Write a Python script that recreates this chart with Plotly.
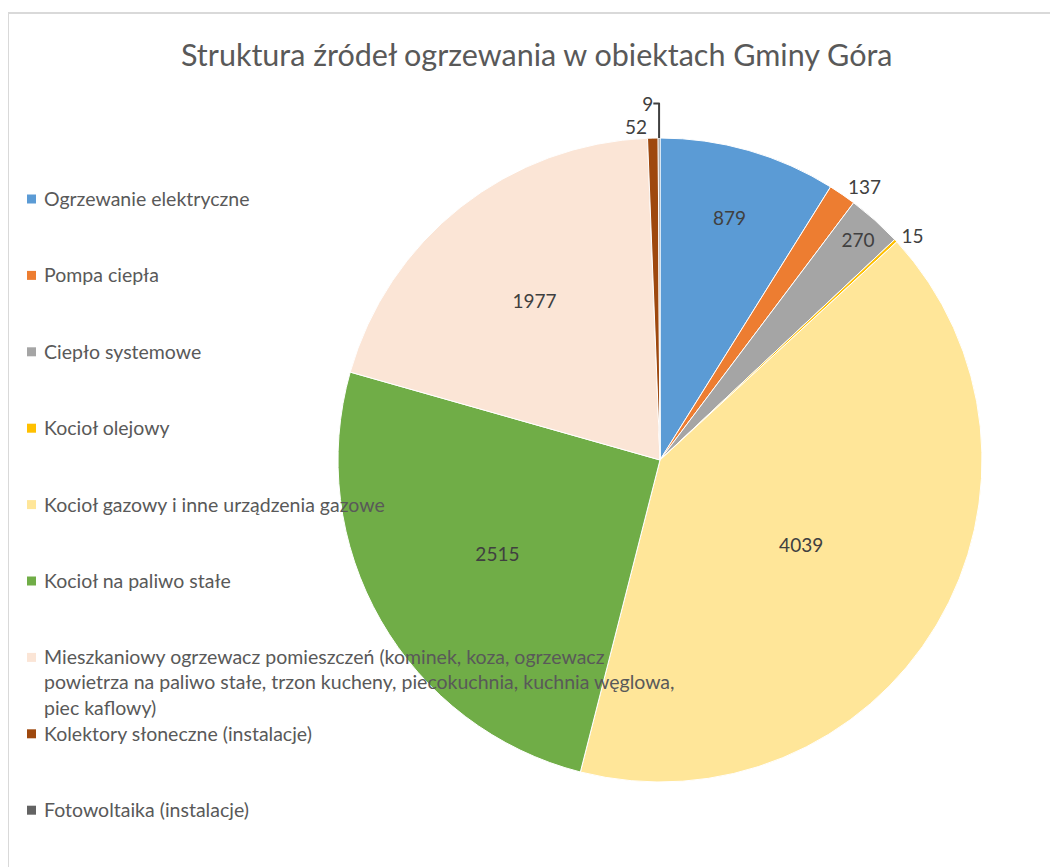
import plotly.graph_objects as go

labels = [
    "Ogrzewanie elektryczne",
    "Pompa ciepła",
    "Ciepło systemowe",
    "Kocioł olejowy",
    "Kocioł gazowy i inne urządzenia gazowe",
    "Kocioł na paliwo stałe",
    "Mieszkaniowy ogrzewacz pomieszczeń (kominek, koza, ogrzewacz powietrza na paliwo stałe, trzon kucheny, piecokuchnia, kuchnia węglowa, piec kaflowy)",
    "Kolektory słoneczne (instalacje)",
    "Fotowoltaika (instalacje)",
]
values = [879, 137, 270, 15, 4039, 2515, 1977, 52, 9]
legend_text = [
    "Ogrzewanie elektryczne",
    "Pompa ciepła",
    "Ciepło systemowe",
    "Kocioł olejowy",
    "Kocioł gazowy i inne urządzenia gazowe",
    "Kocioł na paliwo stałe",
    "Mieszkaniowy ogrzewacz pomieszczeń (kominek, koza, ogrzewacz<br>powietrza na paliwo stałe, trzon kucheny, piecokuchnia, kuchnia węglowa,<br>piec kaflowy)",
    "Kolektory słoneczne (instalacje)",
    "Fotowoltaika (instalacje)",
]
colors = ["#5B9BD5", "#ED7D31", "#A5A5A5", "#FFC000", "#FFE699",
          "#70AD47", "#FBE5D6", "#9E480E", "#636363"]
text_pos = ["inside", "outside", "inside", "outside", "inside",
            "inside", "inside", "outside", "outside"]

W, H = 1058, 867
OFF = 8  # page body margin shifts the figure by 8px
FONT = "Lato"
cx, cy, R = 660 - OFF, 460 - OFF, 322


def px(x):
    return (x - OFF) / W


def py(y):
    return 1 - (y - OFF) / H


fig = go.Figure()
fig.add_trace(go.Pie(
    labels=labels, values=values, sort=False, direction="clockwise", rotation=0,
    marker=dict(colors=colors, line=dict(color="white", width=1)),
    textinfo="value", textposition=text_pos, insidetextorientation="horizontal",
    textfont=dict(family=FONT, size=19, color="#404040"),
    outsidetextfont=dict(family=FONT, size=19, color="#404040"),
    showlegend=False, hoverinfo="label+value",
    domain=dict(x=[(cx - R) / W, (cx + R) / W], y=[1 - (cy + R) / H, 1 - (cy - R) / H]),
))

shapes = [
    dict(type="line", xref="paper", yref="paper", x0=px(8), x1=1.0, y0=py(13), y1=py(13),
         line=dict(color="#D9D9D9", width=2)),
    dict(type="line", xref="paper", yref="paper", x0=px(8), x1=px(8), y0=0, y1=py(13),
         line=dict(color="#D9D9D9", width=2)),
]
annotations = [
    dict(text="Struktura źródeł ogrzewania w obiektach Gminy Góra", xref="paper", yref="paper",
         x=px(537), y=py(54), xanchor="center", yanchor="middle", showarrow=False,
         font=dict(family=FONT, size=30.5, color="#595959")),
]
y0, step = 199, 76.4
for i, t in enumerate(legend_text):
    yc = y0 + step * i
    shapes.append(dict(type="rect", xref="paper", yref="paper",
                       x0=px(27), x1=px(36), y0=py(yc + 4.5), y1=py(yc - 4.5),
                       fillcolor=colors[i], line=dict(width=0), layer="above"))
    annotations.append(dict(text=t, xref="paper", yref="paper", x=px(42), y=py(yc - 14),
                            xanchor="left", yanchor="top", align="left", showarrow=False,
                            font=dict(family=FONT, size=19.5, color="#595959")))

fig.update_layout(
    width=W, height=H, margin=dict(l=0, r=0, t=0, b=0),
    paper_bgcolor="white", plot_bgcolor="white",
    shapes=shapes, annotations=annotations,
)
fig.write_html("out.html")
